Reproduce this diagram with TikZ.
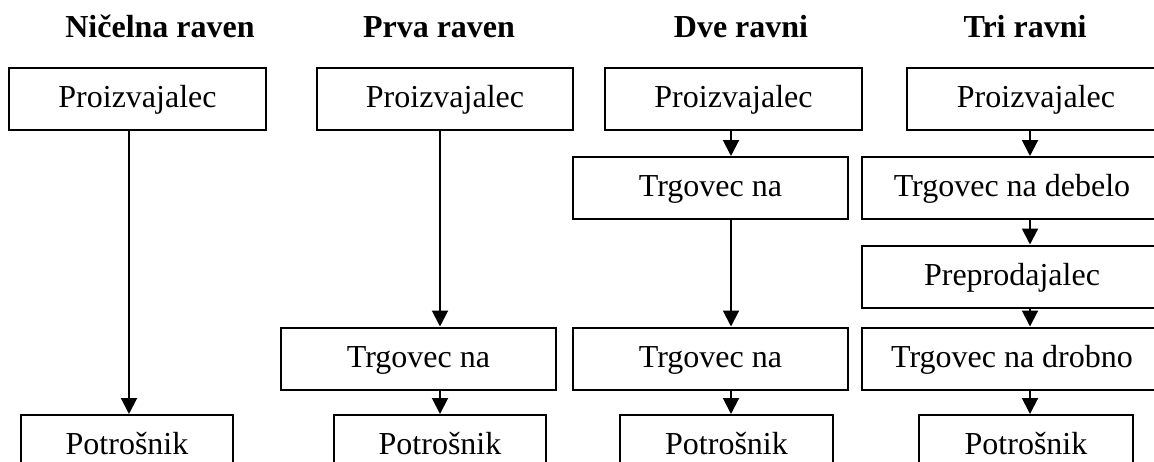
\documentclass[tikz,border=0pt]{standalone}
\usepackage{fontspec}
\setmainfont{Liberation Serif}
\usetikzlibrary{arrows.meta}
\begin{document}
\begin{tikzpicture}[x=1pt,y=-1pt,
  box/.style={draw, line width=2pt, inner sep=0pt, minimum height=62pt,
    font=\fontsize{32}{38}\selectfont, text height=21pt, text depth=4pt},
  title/.style={anchor=base, font=\fontsize{32}{38}\selectfont\bfseries},
  arr/.style={line width=2pt, -{Triangle[width=16pt,length=16pt]}}]
\useasboundingbox (0,0) rectangle (1154,461);
\clip (0,0) rectangle (1154,461);

% column headings
\node[title] (t1) at (160,37) {Ničelna raven};
\node[title] (t2) at (439,37) {Prva raven};
\node[title] (t3) at (741,37) {Dve ravni};
\node[title] (t4) at (1025,37) {Tri ravni};

% x positions of the vertical connectors
\coordinate (a1) at (129,0);
\coordinate (a2) at (440,0);
\coordinate (a3) at (731,0);
\coordinate (a4) at (1030,0);

% zero level
\node[box, minimum width=257pt] (p1) at (137.5,99) {Proizvajalec};
\node[box, minimum width=212pt] (k1) at (127,446) {Potrošnik};

% first level
\node[box, minimum width=256pt] (p2) at (445,99) {Proizvajalec};
\node[box, minimum width=275pt] (r2) at (418.5,358.5) {Trgovec na};
\node[box, minimum width=212pt] (k2) at (440,446) {Potrošnik};

% two levels
\node[box, minimum width=257pt] (p3) at (733.5,99) {Proizvajalec};
\node[box, minimum width=275pt] (w3) at (710.5,188) {Trgovec na};
\node[box, minimum width=275pt] (r3) at (710.5,358.5) {Trgovec na};
\node[box, minimum width=213pt] (k3) at (726.5,446) {Potrošnik};

% three levels
\node[box, minimum width=258pt] (p4) at (1036,99) {Proizvajalec};
\node[box, minimum width=300pt] (w4) at (1012,188) {Trgovec na debelo};
\node[box, minimum width=300pt] (m4) at (1012,276.5) {Preprodajalec};
\node[box, minimum width=300pt] (r4) at (1012,358.5) {Trgovec na drobno};
\node[box, minimum width=214pt] (k4) at (1026,446) {Potrošnik};

% connectors
\draw[arr] (p1.south -| a1) -- (k1.north -| a1);

\draw[arr] (p2.south -| a2) -- (r2.north -| a2);
\draw[arr] (r2.south -| a2) -- (k2.north -| a2);

\draw[arr] (p3.south -| a3) -- (w3.north -| a3);
\draw[arr] (w3.south -| a3) -- (r3.north -| a3);
\draw[arr] (r3.south -| a3) -- (k3.north -| a3);

\draw[arr] (p4.south -| a4) -- (w4.north -| a4);
\draw[arr] (w4.south -| a4) -- (m4.north -| a4);
\draw[arr] (m4.south -| a4) -- (r4.north -| a4);
\draw[arr] (r4.south -| a4) -- (k4.north -| a4);
\end{tikzpicture}
\end{document}
